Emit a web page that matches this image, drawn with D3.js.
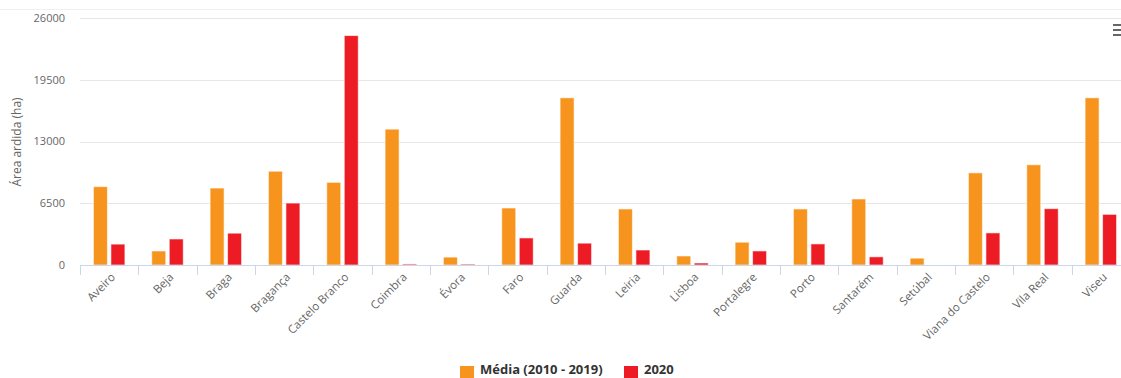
<html>
<head>
  <meta charset="utf-8" />
  <script src="https://cdnjs.cloudflare.com/ajax/libs/d3/7.8.5/d3.min.js"></script>
  <style>
    body { margin: 0; background: #fff; }
    svg { font-family: "Open Sans", sans-serif; }
  </style>
</head>
<body>
  <svg></svg>
  <script>
    var districts = ["Aveiro", "Beja", "Braga", "Bragança", "Castelo Branco", "Coimbra", "Évora", "Faro", "Guarda",
      "Leiria", "Lisboa", "Portalegre", "Porto", "Santarém", "Setúbal", "Viana do Castelo", "Vila Real", "Viseu"]
    var media = [8250, 1480, 8100, 9870, 8700, 14300, 830, 6000, 17600,
      5900, 950, 2400, 5900, 6950, 720, 9700, 10550, 17600]
    var ano2020 = [2200, 2740, 3350, 6520, 24150, 110, 100, 2850, 2300,
      1580, 210, 1480, 2220, 860, 0, 3380, 5930, 5330]
    var yTicks = [0, 6500, 13000, 19500, 26000]
    var seriesNames = ["Média (2010 - 2019)", "2020"]
    var colors = ["#F7941D", "#ED1C24"]

    var svg = d3.select("svg").attr("width", 1121).attr("height", 378)

    var x0 = d3.scaleBand().domain(districts).range([80, 1130]).padding(0)
    var bw = x0.bandwidth()
    var x1 = d3.scaleBand().domain([0, 1]).range([bw * 0.2, bw * 0.8]).paddingInner(0.2).paddingOuter(0.1)
    var y = d3.scaleLinear().domain([0, 26000]).range([265, 18])

    // faint top line
    svg.append("line").attr("x1", 0).attr("x2", 1121).attr("y1", 9.5).attr("y2", 9.5)
      .style("stroke", "#f0f0f0")

    // gridlines
    svg.selectAll("line.grid").data(yTicks.slice(1)).enter().append("line")
      .attr("class", "grid")
      .attr("x1", 80).attr("x2", 1130)
      .attr("y1", d => Math.round(y(d)) + 0.5).attr("y2", d => Math.round(y(d)) + 0.5)
      .style("stroke", "#e6e6e6")

    // y labels
    svg.selectAll("text.ylab").data(yTicks).enter().append("text")
      .attr("class", "ylab")
      .attr("x", 65).attr("y", d => y(d)).attr("dy", "0.35em")
      .attr("text-anchor", "end")
      .style("font-size", "11px").style("fill", "#666")
      .text(d => d)

    svg.append("text")
      .attr("transform", "translate(21,142) rotate(-90)")
      .attr("text-anchor", "middle")
      .style("font-size", "12px").style("fill", "#666")
      .text("Área ardida (ha)")

    // bars
    var rows = districts.map((d, i) => [media[i], ano2020[i]])
    svg.selectAll("g.cat").data(rows).enter().append("g")
      .attr("class", "cat")
      .attr("transform", (d, i) => "translate(" + x0(districts[i]) + ",0)")
      .each(function(d) {
        d3.select(this).selectAll("rect").data(d).enter().append("rect")
          .attr("x", (v, k) => x1(k))
          .attr("width", x1.bandwidth())
          .attr("y", v => y(v))
          .attr("height", v => 265 - y(v))
          .style("fill", (v, k) => colors[k])
          .style("stroke", "#fff").style("stroke-opacity", 0.6).style("stroke-width", 1)
      })

    // x axis
    svg.append("line").attr("x1", 80).attr("x2", 1130).attr("y1", 265.5).attr("y2", 265.5)
      .style("stroke", "#ccd6eb")
    svg.selectAll("line.tick").data(d3.range(districts.length + 1)).enter().append("line")
      .attr("class", "tick")
      .attr("x1", i => Math.round(80 + i * bw) + 0.5).attr("x2", i => Math.round(80 + i * bw) + 0.5)
      .attr("y1", 265).attr("y2", 275)
      .style("stroke", "#ccd6eb")

    svg.selectAll("text.xlab").data(districts).enter().append("text")
      .attr("class", "xlab")
      .attr("transform", d => "translate(" + (x0(d) + bw / 2 + 4) + ",275) rotate(-45)")
      .attr("text-anchor", "end").attr("dy", "0.35em")
      .style("font-size", "11.5px").style("fill", "#666")
      .text(d => d)

    // legend
    var legend = [
      { name: seriesNames[0], color: colors[0], x: 460 },
      { name: seriesNames[1], color: colors[1], x: 624 }
    ]
    var lg = svg.selectAll("g.leg").data(legend).enter().append("g")
      .attr("class", "leg")
      .attr("transform", d => "translate(" + d.x + ",0)")
    lg.append("rect").attr("x", 0).attr("y", 366).attr("width", 14).attr("height", 12)
      .style("fill", d => d.color)
    lg.append("text").attr("x", 20).attr("y", 369.5).attr("dy", "0.35em")
      .style("font-size", "13px").style("font-weight", "bold").style("fill", "#333")
      .text(d => d.name)

    // menu icon
    svg.selectAll("rect.menu").data([25, 30, 35]).enter().append("rect")
      .attr("class", "menu")
      .attr("x", 1113).attr("y", d => d - 1).attr("width", 12).attr("height", 2)
      .style("fill", "#666")
  </script>
</body>
</html>
